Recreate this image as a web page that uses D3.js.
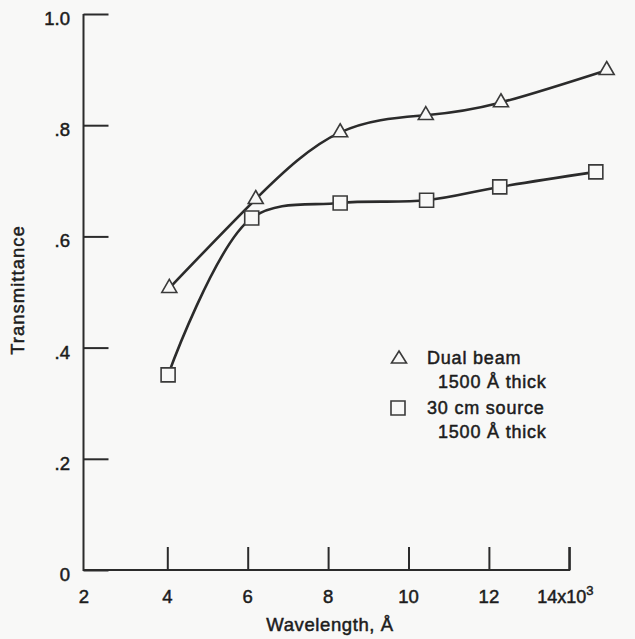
<!DOCTYPE html>
<html lang="en">
<head>
<meta charset="UTF-8">
<title>Transmittance vs wavelength</title>
<script src="https://d3js.org/d3.v7.min.js"></script>
<style>
    body { margin: 0; background: #f8f8f7; }
    svg { display: block; }
    text { font-family: "Liberation Sans", Arial, Helvetica, sans-serif; fill: #1c1c1c; stroke: #1c1c1c; stroke-width: 0.5px; }
</style>
</head>
<body>
<svg id="chart" width="635" height="639"></svg>
<script>
    // values
    const wavelengthTicks = [4, 6, 8, 10, 12, 14];
    const transmittanceTicks = [0, 0.2, 0.4, 0.6, 0.8, 1.0];
    const transmittanceLabels = ["0", ".2", ".4", ".6", ".8", "1.0"];

    const dualBeamWavelength = [4.05, 6.2, 8.3, 10.43, 12.3, 14.93];
    const dualBeamTransmittance = [0.507, 0.667, 0.787, 0.818, 0.841, 0.899];

    const sourceWavelength = [4.02, 6.1, 8.3, 10.45, 12.27, 14.66];
    const sourceTransmittance = [0.351, 0.633, 0.66, 0.665, 0.689, 0.716];

    const legendLabels = [["Dual beam", "1500 Å thick"], ["30 cm source", "1500 Å thick"]];

    const svg = d3.select("#chart");
    const ink = "#2b2b2b";
    const bg = "#f8f8f7";

    const x = d3.scaleLinear().domain([2, 14]).range([86.9, 569.3]);
    const y = d3.scaleLinear().domain([0, 1]).range([570, 14]);
    const axisX = 83.5;

    // y axis, ticks pointing inward
    const yAxis = svg.append("g")
        .attr("transform", `translate(${axisX},0)`)
        .call(d3.axisLeft(y).tickValues(transmittanceTicks).tickSize(-25).tickSizeOuter(0).tickFormat(""));
    yAxis.select(".domain").remove();
    yAxis.selectAll("line").attr("stroke", ink).attr("stroke-width", 2);

    // x axis, ticks pointing up
    const xAxis = svg.append("g")
        .attr("transform", `translate(0,${y(0)})`)
        .call(d3.axisBottom(x).tickValues(wavelengthTicks).tickSize(-23).tickSizeOuter(0).tickFormat(""));
    xAxis.select(".domain").remove();
    xAxis.selectAll("line").attr("stroke", ink).attr("stroke-width", 2);

    // axis frame lines
    svg.append("path")
        .attr("d", d3.line()([[axisX, y(1)], [axisX, y(0)], [x(14), y(0)], [x(14), y(0) - 23]]))
        .attr("fill", "none")
        .attr("stroke", ink)
        .attr("stroke-width", 2);

    // y tick labels
    svg.selectAll(".ylab").data(transmittanceTicks)
        .join("text")
        .attr("class", "ylab")
        .attr("x", 70)
        .attr("y", d => y(d) + 11)
        .attr("text-anchor", "end")
        .style("font-size", "18.5px")
        .text((d, i) => transmittanceLabels[i]);

    // x tick labels
    const xLabelValues = [2, 4, 6, 8, 10, 12];
    svg.selectAll(".xlab").data(xLabelValues)
        .join("text")
        .attr("class", "xlab")
        .attr("x", d => x(d) - (d === 2 ? 3 : 0))
        .attr("y", 603)
        .attr("text-anchor", "middle")
        .style("font-size", "18.5px")
        .text(d => d);

    const lastLabel = svg.append("text")
        .attr("x", x(14) - 32)
        .attr("y", 603)
        .style("font-size", "18px");
    lastLabel.append("tspan").text("14x10");
    lastLabel.append("tspan").attr("dy", -8).style("font-size", "13px").text("3");

    // axis titles
    svg.append("text")
        .attr("x", 330)
        .attr("y", 631)
        .attr("text-anchor", "middle")
        .style("font-size", "18.5px")
        .style("letter-spacing", "0.6px")
        .text("Wavelength, Å");

    svg.append("text")
        .attr("transform", "translate(24,290) rotate(-90)")
        .attr("text-anchor", "middle")
        .style("font-size", "18.5px")
        .style("letter-spacing", "1px")
        .text("Transmittance");

    // curves
    const line = curve => d3.line()
        .x(d => x(d[0]))
        .y(d => y(d[1]))
        .curve(curve);

    const dualBeam = dualBeamWavelength.map((w, i) => [w, dualBeamTransmittance[i]]);
    const source = sourceWavelength.map((w, i) => [w, sourceTransmittance[i]]);

    svg.append("path")
        .attr("d", line(d3.curveNatural)(dualBeam))
        .attr("fill", "none")
        .attr("stroke", ink)
        .attr("stroke-width", 2.6);

    svg.append("path")
        .attr("d", line(d3.curveCatmullRom.alpha(0.5))(source))
        .attr("fill", "none")
        .attr("stroke", ink)
        .attr("stroke-width", 2.6);

    const trianglePath = (w, h) => `M0,${-h * 2 / 3}L${w / 2},${h / 3}L${-w / 2},${h / 3}Z`;
    const squarePath = s => `M${-s / 2},${-s / 2}h${s}v${s}h${-s}Z`;

    svg.selectAll(".tri").data(dualBeam)
        .join("path")
        .attr("class", "tri")
        .attr("transform", d => `translate(${x(d[0])},${y(d[1])})`)
        .attr("d", trianglePath(15, 13))
        .attr("fill", bg)
        .attr("stroke", "#3a3a3a")
        .attr("stroke-width", 1.6);

    svg.selectAll(".sq").data(source)
        .join("path")
        .attr("class", "sq")
        .attr("transform", d => `translate(${x(d[0])},${y(d[1])})`)
        .attr("d", squarePath(14))
        .attr("fill", bg)
        .attr("stroke", "#3a3a3a")
        .attr("stroke-width", 1.6);

    // legend
    const legend = svg.append("g");
    const legendRows = [{ mark: trianglePath(15, 12), mx: 399, my: 359, ty: 364 },
                        { mark: squarePath(14), mx: 398, my: 408, ty: 414 }];
    legendRows.forEach((r, i) => {
        legend.append("path")
            .attr("transform", `translate(${r.mx},${r.my})`)
            .attr("d", r.mark)
            .attr("fill", bg)
            .attr("stroke", "#3a3a3a")
            .attr("stroke-width", 1.6);
        legend.append("text")
            .attr("x", 427)
            .attr("y", r.ty)
            .style("font-size", "18px")
            .style("letter-spacing", "0.8px")
            .text(legendLabels[i][0]);
        legend.append("text")
            .attr("x", 438)
            .attr("y", r.ty + 24)
            .style("font-size", "18px")
            .style("letter-spacing", "0.8px")
            .text(legendLabels[i][1]);
    });
</script>
</body>
</html>
